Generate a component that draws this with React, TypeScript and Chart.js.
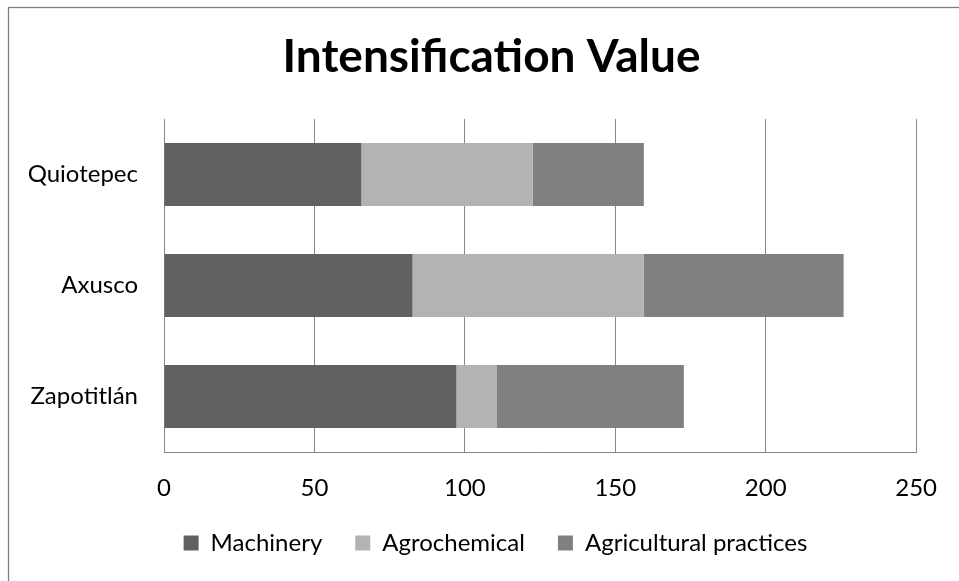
import React, { useEffect, useRef } from "react";
import { Chart, registerables } from "chart.js";

Chart.register(...registerables);

const categories = ["Quiotepec", "Axusco", "Zapotitlán"];
const machinery = [65.6, 82.6, 97.2];
const agrochemical = [57.0, 76.8, 13.3];
const agriculturalPractices = [36.9, 66.5, 62.3];
const xTicks = [0, 50, 100, 150, 200, 250];
const seriesNames = ["Machinery", "Agrochemical", "Agricultural practices"];

const FONT = "Lato, 'Open Sans', sans-serif";

const frame = {
  id: "frame",
  beforeDraw(chart: any) {
    const ctx = chart.ctx;
    ctx.save();
    ctx.fillStyle = "#ffffff";
    ctx.fillRect(0, 0, chart.width, chart.height);
    ctx.strokeStyle = "#7f7f7f";
    ctx.lineWidth = 1.3;
    ctx.strokeRect(8.5, 7.5, chart.width + 20, chart.height + 20);
    ctx.restore();
  },
};

// Place title and legend like the original (centred on the whole frame, legend below ticks)
const placeBoxes = {
  id: "placeBoxes",
  afterLayout(chart: any) {
    const t = chart.titleBlock;
    if (t) {
      t.left += 32;
      t.right += 32;
    }
    const lg = chart.legend;
    if (lg) {
      const h = lg.bottom - lg.top;
      lg.left += 36;
      lg.right += 36;
      lg.top = 498;
      lg.bottom = 498 + h;
    }
  },
};

export default function App() {
  const ref = useRef<HTMLCanvasElement | null>(null);
  useEffect(() => {
    if (!ref.current) return;
    const chart = new Chart(ref.current, {
      type: "bar",
      data: {
        labels: categories,
        datasets: [
          { label: seriesNames[0], data: machinery, backgroundColor: "#616161" },
          { label: seriesNames[1], data: agrochemical, backgroundColor: "#b3b3b3" },
          { label: seriesNames[2], data: agriculturalPractices, backgroundColor: "#808080" },
        ],
      },
      options: {
        indexAxis: "y",
        responsive: false,
        animation: false,
        layout: { padding: { left: 0, right: 40, top: 0, bottom: 5 } },
        datasets: { bar: { categoryPercentage: 0.5676, barPercentage: 1 } },
        plugins: {
          title: {
            display: true,
            text: "Intensification Value",
            color: "#000",
            font: { family: FONT, size: 46, weight: "bold", lineHeight: 1.2 },
            padding: { top: 30, bottom: 33.8 },
          },
          legend: {
            position: "bottom",
            labels: {
              color: "#000",
              font: { family: FONT, size: 24 },
              boxWidth: 15,
              boxHeight: 15,
              padding: 33,
            },
          },
          tooltip: { enabled: false },
        },
        scales: {
          x: {
            stacked: true,
            min: 0,
            max: 250,
            afterBuildTicks: (s: any) => {
              s.ticks = xTicks.map((v) => ({ value: v }));
            },
            afterFit: (s: any) => {
              s.height = 57;
            },
            grid: { color: "#868686", lineWidth: 1, drawTicks: false },
            border: { display: true, color: "#868686", width: 1 },
            ticks: {
              color: "#000",
              font: { family: FONT, size: 24 },
              padding: 22,
              maxRotation: 0,
            },
          },
          y: {
            stacked: true,
            afterFit: (s: any) => {
              s.width = 164;
            },
            grid: { display: false, drawTicks: false },
            border: { display: true, color: "#868686", width: 1 },
            ticks: {
              color: "#000",
              font: { family: FONT, size: 24 },
              padding: 26,
            },
          },
        },
      },
      plugins: [frame, placeBoxes],
    });
    return () => chart.destroy();
  }, []);
  return (
    <div style={{ position: "fixed", left: 0, top: 0, width: 959, height: 581, background: "#fff" }}>
      <canvas ref={ref} width={959} height={581} style={{ display: "block" }} />
    </div>
  );
}
